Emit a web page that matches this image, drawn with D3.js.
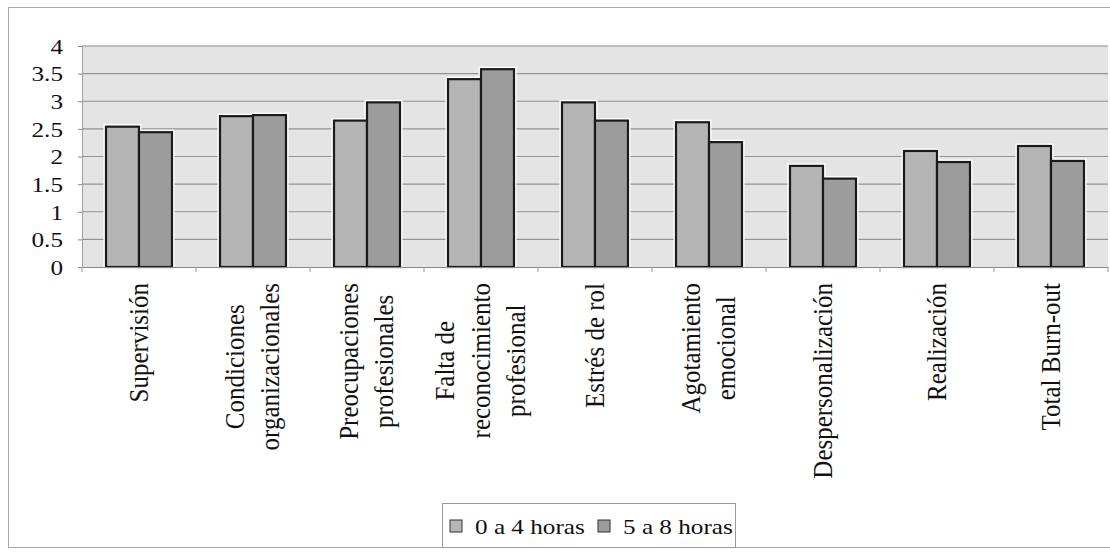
<!DOCTYPE html>
<html>
<head>
<meta charset="utf-8">
<script src="https://cdn.jsdelivr.net/npm/d3@7"></script>
<style>
  html, body { margin: 0; padding: 0; background: #fff; }
  svg { display: block; font-family: "Liberation Serif", "Times New Roman", serif; }
</style>
</head>
<body>
<svg id="chart" width="1110" height="553" font-family="Liberation Serif, serif"></svg>
<script>
const categories = [
  ["Supervisión"],
  ["Condiciones", "organizacionales"],
  ["Preocupaciones", "profesionales"],
  ["Falta de", "reconocimiento", "profesional"],
  ["Estrés de rol"],
  ["Agotamiento", "emocional"],
  ["Despersonalización"],
  ["Realización"],
  ["Total Burn-out"]
];
const seriesNames = ["0 a 4 horas", "5 a 8 horas"];
const values0a4 = [2.54, 2.73, 2.65, 3.40, 2.98, 2.62, 1.83, 2.10, 2.19];
const values5a8 = [2.44, 2.75, 2.98, 3.58, 2.65, 2.26, 1.60, 1.90, 1.92];
const yTicks = [0, 0.5, 1, 1.5, 2, 2.5, 3, 3.5, 4];

const series = [values0a4, values5a8];
const colors = ["#b5b5b5", "#9c9c9c"];
const FONT = "Liberation Serif";
const SX = 1.2;   // horizontal stretch of the scanned original
const SXC = 1.1;  // stretch used for rotated category labels

const svg = d3.select("#chart");
const plot = { left: 82, right: 1108, top: 46, bottom: 267 };

// outer frame
svg.append("rect")
  .attr("x", 8.5).attr("y", 7.5).attr("width", 1120).attr("height", 540)
  .attr("fill", "none").attr("stroke", "#a8a8a8").attr("stroke-width", 1);

const x = d3.scaleBand()
  .domain(d3.range(categories.length))
  .range([plot.left, plot.right])
  .paddingInner(0).paddingOuter(0);
const xs = d3.scaleBand().domain([0, 1]).range([0, 66]);
const groupOffset = (x.bandwidth() - 66) / 2;

const y = d3.scaleLinear().domain([0, 4]).range([plot.bottom, plot.top]);

// plot background
svg.append("rect")
  .attr("x", plot.left).attr("y", plot.top)
  .attr("width", plot.right - plot.left).attr("height", plot.bottom - plot.top)
  .attr("fill", "#e4e4e4");

// gridlines
svg.append("g").selectAll("line").data(yTicks.filter(t => t > 0)).join("line")
  .attr("x1", plot.left).attr("x2", plot.right)
  .attr("y1", d => y(d)).attr("y2", d => y(d))
  .attr("stroke", d => d === 4 ? "#8a8a8a" : "#939393").attr("stroke-width", 1.2);

// y axis (ticks + domain via d3 axis, labels drawn stretched)
const yAxis = svg.append("g")
  .attr("transform", `translate(${plot.left},0)`)
  .call(d3.axisLeft(y).tickValues(yTicks).tickFormat(d3.format("")).tickSize(4));
yAxis.select(".domain").attr("stroke", "#a0a0a0");
yAxis.selectAll(".tick line").attr("stroke", "#888");
yAxis.selectAll(".tick text").remove();
yAxis.selectAll(".tick").append("g")
  .attr("transform", `translate(-19,0) scale(${SX},1)`)
  .append("text")
  .attr("text-anchor", "end")
  .attr("dy", "0.35em")
  .attr("font-family", FONT)
  .attr("font-size", 21)
  .attr("fill", "#111")
  .text(d => d3.format("")(d));

// bars
const groups = svg.append("g").selectAll("g").data(categories).join("g")
  .attr("transform", (d, i) => `translate(${x(i) + groupOffset},0)`);

groups.each(function(d, i) {
  const g = d3.select(this);
  series.forEach((vals, s) => {
    g.append("rect")
      .attr("x", xs(s)).attr("width", xs.bandwidth())
      .attr("y", y(vals[i])).attr("height", y(0) - y(vals[i]))
      .attr("fill", "none").attr("stroke", "#ffffff").attr("stroke-width", 5);
  });
  series.forEach((vals, s) => {
    g.append("rect")
      .attr("x", xs(s)).attr("width", xs.bandwidth())
      .attr("y", y(vals[i])).attr("height", y(0) - y(vals[i]))
      .attr("fill", colors[s]).attr("stroke", "#1a1a1a").attr("stroke-width", 2.2);
  });
});

// x axis line and category ticks
const xAxis = svg.append("g")
  .attr("transform", `translate(0,${plot.bottom})`)
  .call(d3.axisBottom(x).tickValues([]).tickSizeOuter(0));
xAxis.select(".domain").attr("stroke", "#8a8a8a").attr("stroke-width", 1.2);
svg.append("g").selectAll("line").data(d3.range(categories.length + 1)).join("line")
  .attr("x1", i => i < categories.length ? x(i) : plot.right)
  .attr("x2", i => i < categories.length ? x(i) : plot.right)
  .attr("y1", plot.bottom).attr("y2", plot.bottom + 5)
  .attr("stroke", "#999").attr("stroke-width", 1);

// category labels (rotated, lines centred on each other)
const labelG = svg.append("g").selectAll("g").data(categories).join("g")
  .attr("transform", (d, i) => `translate(${x(i) + x.bandwidth() / 2 - 1},283) scale(${SXC},1) rotate(-90)`);
labelG.each(function(lines) {
  const g = d3.select(this);
  const n = lines.length;
  const texts = lines.map((ln, k) => g.append("text")
      .attr("y", (k - (n - 1) / 2) * 32)
      .attr("dy", "0.35em")
      .attr("text-anchor", "middle")
      .attr("font-family", FONT)
      .attr("font-size", 25)
      .attr("fill", "#111")
      .text(ln));
  const maxLen = d3.max(texts, t => t.node().getComputedTextLength());
  texts.forEach(t => t.attr("x", -maxLen / 2));
});

// legend
const legend = svg.append("g");
legend.append("rect")
  .attr("x", 442.5).attr("y", 503.5).attr("width", 293).attr("height", 44)
  .attr("fill", "#fff").attr("stroke", "#9a9a9a").attr("stroke-width", 1);
const legX = [450, 598];
seriesNames.forEach((name, s) => {
  legend.append("rect")
    .attr("x", legX[s]).attr("y", 520).attr("width", 12).attr("height", 12)
    .attr("fill", colors[s]).attr("stroke", "#333").attr("stroke-width", 1);
  legend.append("g")
    .attr("transform", `translate(${legX[s] + 25},534) scale(${SX},1)`)
    .append("text")
    .attr("font-family", FONT)
    .attr("font-size", 21)
    .attr("fill", "#111")
    .text(name);
});
</script>
</body>
</html>
